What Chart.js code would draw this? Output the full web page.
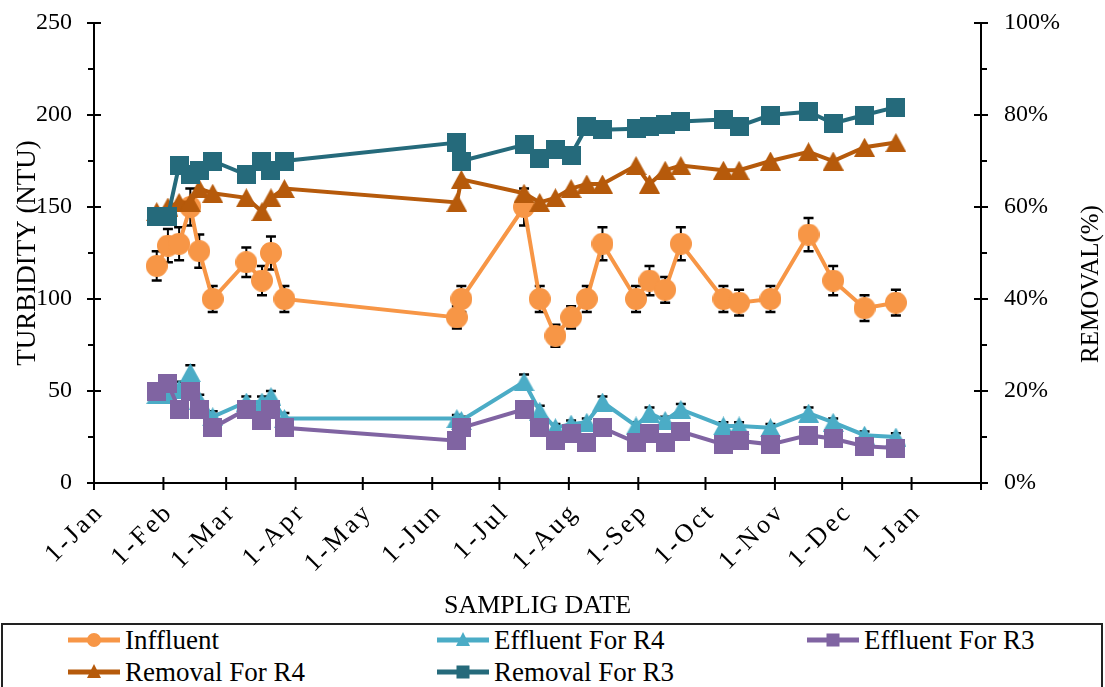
<!DOCTYPE html>
<html><head><meta charset="utf-8">
<script src="https://cdn.jsdelivr.net/npm/chart.js@4.4.0/dist/chart.umd.min.js"></script>
<style>
html,body{margin:0;padding:0;background:#fff;}
#wrap{position:relative;width:1105px;height:687px;overflow:hidden;background:#fff;}
#cbox{position:absolute;left:0;top:0;width:1105px;height:622px;}
#legendBox{position:absolute;left:1px;top:623px;width:1102px;height:90px;border:2px solid #222;box-sizing:border-box;}
.item{position:absolute;height:32px;display:flex;align-items:center;white-space:nowrap;font-family:"Liberation Serif","Times New Roman",serif;font-size:27px;color:#000;}
.item svg{margin-right:5px;flex:none;}
</style></head><body>
<div id="wrap"><div id="cbox"><canvas id="c"></canvas></div><div id="legendBox"></div></div>
<script>
// ---- data ----
const sampleDates = ['2019-01-29','2019-02-03','2019-02-08','2019-02-13','2019-02-17','2019-02-23','2019-03-10','2019-03-17','2019-03-21','2019-03-27','2019-06-12','2019-06-14','2019-07-12','2019-07-19','2019-07-26','2019-08-02','2019-08-09','2019-08-16','2019-08-31','2019-09-06','2019-09-13','2019-09-20','2019-10-09','2019-10-16','2019-10-30','2019-11-16','2019-11-27','2019-12-11','2019-12-25'];
const influent    = [118,129,130,150,126,100,120,110,125,100,90,100,150,100,80,90,100,130,100,110,105,130,100,98,100,135,110,95,98];
const influentErr = [8,9,9,10,9,7,8,8,9,7,6,7,10,7,6,6,7,9,7,8,7,9,7,7,7,9,8,7,7];
const effluentR4    = [48,48,51,60,45,36,44,44,47,35,35,34,55,39,30,32,33,44,31,38,34,40,31,31,30,38,33,26,25];
const effluentR4Err = [3,3,4,4,3,3,3,3,3,3,2,2,4,3,2,2,2,3,2,3,2,3,2,2,2,3,2,2,2];
const effluentR3 = [50,54,40,50,40,30,40,34,40,30,23,30,40,30,23,27,22,30,22,27,22,28,21,23,21,26,24,20,19];
const removalR4 = [59,60,61,61,64,63,62,59,62,64,61,66,63,61,62,64,65,65,69,65,68,69,68,68,70,72,70,73,74];
const removalR3 = [58,58,69,67,68,70,67,70,68,70,74,70,73.5,70.5,72.5,71.3,77.5,76.8,77,77.5,78,78.6,79,77.6,80,80.7,78.2,80,81.7];
const xTickDates  = ['2019-01-01','2019-02-01','2019-03-01','2019-04-01','2019-05-01','2019-06-01','2019-07-01','2019-08-01','2019-09-01','2019-10-01','2019-11-01','2019-12-01','2020-01-01','2020-02-01'];
const xTickLabels = ['1-Jan','1-Feb','1-Mar','1-Apr','1-May','1-Jun','1-Jul','1-Aug','1-Sep','1-Oct','1-Nov','1-Dec','1-Jan',''];
const turbidityTicks = [0,50,100,150,200,250];
const removalTicks = [0,20,40,60,80,100];
const removalTickLabels = ['0%','20%','40%','60%','80%','100%'];
const seriesNames = ['Inffluent','Effluent For R4','Effluent For R3','Removal For R4','Removal For R3'];

const COLORS = {inf:'#F79646', e4:'#4BACC6', e3:'#8064A2', r4:'#B65A0B', r3:'#256A7B'};
const FONT = '"Liberation Serif","Times New Roman",serif';

const base = Date.UTC(2019,0,1);
function dayOf(s){const [y,m,d]=s.split('-').map(Number);return (Date.UTC(y,m-1,d)-base)/86400000;}
const xDays = sampleDates.map(dayOf);
const xTickDays = xTickDates.map(dayOf);
const pts = arr => arr.map((v,i)=>({x:xDays[i], y:v}));

function marker(shape,color){
  const c=document.createElement('canvas');
  let w,h;
  if(shape==='circle'){w=h=22;} else if(shape==='tri'){w=21;h=19;} else {w=h=19;}
  c.width=w;c.height=h;const g=c.getContext('2d');g.fillStyle=color;g.beginPath();
  if(shape==='circle'){g.arc(w/2,h/2,w/2,0,Math.PI*2);}
  else if(shape==='tri'){g.moveTo(w/2,0);g.lineTo(w,h);g.lineTo(0,h);g.closePath();}
  else {g.rect(0,0,w,h);}
  g.fill();return c;
}

const errPlugin = {
  id:'errbars',
  beforeDatasetDraw(chart,args){
    const ds=chart.data.datasets[args.index];
    if(!ds.err) return;
    const ys=chart.scales[ds.yAxisID], ctx=chart.ctx;
    ctx.save();ctx.strokeStyle='#000';
    args.meta.data.forEach((p,i)=>{
      const v=ds.data[i].y,e=ds.err[i];
      const a=ys.getPixelForValue(v+e),b=ys.getPixelForValue(v-e),x=p.x;
      ctx.lineWidth=2;ctx.beginPath();ctx.moveTo(x,a);ctx.lineTo(x,b);ctx.stroke();
      ctx.lineWidth=2.5;ctx.beginPath();ctx.moveTo(x-5,a);ctx.lineTo(x+5,a);ctx.moveTo(x-5,b);ctx.lineTo(x+5,b);ctx.stroke();
    });
    ctx.restore();
  }
};

const axisTicks = {
  id:'axisTicks',
  beforeDraw(chart){
    const s=chart.scales.x;
    if(s && !s._lsWrapped){
      const orig=s.drawLabels.bind(s);
      s.drawLabels=function(ca){const ctx=this.ctx;ctx.save();ctx.letterSpacing='3px';ctx.translate(6,-2);orig(ca);ctx.restore();};
      s._lsWrapped=true;
    }
  },
  beforeDatasetsDraw(chart){
    const {x,y,y1}=chart.scales, ctx=chart.ctx;
    ctx.save();ctx.strokeStyle='#000';ctx.lineWidth=2;ctx.beginPath();
    const ax=y.right;
    for(let v=0;v<=250;v+=25){const p=y.getPixelForValue(v);
      if(v%50===0){ctx.moveTo(ax-7,p);ctx.lineTo(ax+7,p);} else {ctx.moveTo(ax-6,p);ctx.lineTo(ax,p);} }
    const bx=y1.left;
    for(let v=0;v<=100;v+=10){const p=y1.getPixelForValue(v);
      if(v%20===0){ctx.moveTo(bx-7,p);ctx.lineTo(bx+7,p);} else {ctx.moveTo(bx,p);ctx.lineTo(bx+6,p);} }
    const ay=x.top;
    xTickDays.forEach(d=>{const p=x.getPixelForValue(d);ctx.moveTo(p,ay-6);ctx.lineTo(p,ay+7);});
    ctx.stroke();
    // right axis title (reads bottom-to-top)
    ctx.fillStyle='#000';ctx.font='25px '+FONT;ctx.textAlign='center';ctx.textBaseline='middle';
    ctx.translate(1091,284);ctx.rotate(-Math.PI/2);ctx.fillText('REMOVAL(%)',0,0);
    ctx.restore();
  }
};

function lineDs(label,data,color,shape,axis,order,err){
  return {label,data:pts(data),borderColor:color,backgroundColor:color,borderWidth:4,
    pointStyle:marker(shape,color),pointRadius:10,pointHoverRadius:10,yAxisID:axis,order,
    err:err||null,tension:0,clip:false};
}

const tickFont={family:FONT,size:24};
function fixV(w){return function(s){s.width=w;s.paddingTop=14;s.paddingBottom=14;};}
new Chart(document.getElementById('c'),{
  type:'line',
  data:{datasets:[
    lineDs(seriesNames[0],influent,COLORS.inf,'circle','y',5,influentErr),
    lineDs(seriesNames[1],effluentR4,COLORS.e4,'tri','y',4,effluentR4Err),
    lineDs(seriesNames[2],effluentR3,COLORS.e3,'sq','y',3),
    lineDs(seriesNames[3],removalR4,COLORS.r4,'tri','y1',2),
    lineDs(seriesNames[4],removalR3,COLORS.r3,'sq','y1',1)
  ]},
  options:{
    responsive:true,maintainAspectRatio:false,animation:false,
    layout:{padding:{top:23,left:0,right:0,bottom:0}},
    plugins:{legend:{display:false},tooltip:{enabled:false}},
    events:[],
    scales:{
      x:{type:'linear',min:xTickDays[0],max:xTickDays[xTickDays.length-1],
        grid:{display:false,drawTicks:false},border:{display:true,color:'#000',width:2},
        afterBuildTicks(s){s.ticks=xTickDays.map(v=>({value:v}));},
        afterFit(s){s.height=139;},
        ticks:{autoSkip:false,maxRotation:45,minRotation:45,padding:16,color:'#000',font:{family:FONT,size:26},
          callback:(v,i)=>xTickLabels[i]},
        title:{display:true,text:'SAMPLIG DATE',color:'#000',font:{family:FONT,size:26},padding:{top:0,bottom:0}}
      },
      y:{position:'left',min:0,max:250,
        grid:{display:false,drawTicks:false},border:{display:true,color:'#000',width:2},
        afterBuildTicks(s){s.ticks=turbidityTicks.map(v=>({value:v}));},
        afterFit:fixV(94),
        ticks:{padding:22,color:'#000',font:tickFont},
        title:{display:true,text:'TURBIDITY (NTU)',color:'#000',font:{family:FONT,size:27},padding:{top:12,bottom:0}}
      },
      y1:{position:'right',min:0,max:100,
        grid:{display:false,drawTicks:false},border:{display:true,color:'#000',width:2},
        afterBuildTicks(s){s.ticks=removalTicks.map(v=>({value:v}));},
        afterFit:fixV(124),
        ticks:{padding:23,color:'#000',font:tickFont,callback:(v,i)=>removalTickLabels[i]}
      }
    }
  },
  plugins:[errPlugin,axisTicks]
});

// ---- legend (HTML) ----
const legendItems=[
  {name:seriesNames[0],color:COLORS.inf,shape:'circle',x:68,y:624},
  {name:seriesNames[1],color:COLORS.e4,shape:'tri',x:437,y:624},
  {name:seriesNames[2],color:COLORS.e3,shape:'sq',x:807,y:624},
  {name:seriesNames[3],color:COLORS.r4,shape:'tri',x:68,y:656},
  {name:seriesNames[4],color:COLORS.r3,shape:'sq',x:437,y:656}
];
const wrap=document.getElementById('wrap');
legendItems.forEach(it=>{
  const d=document.createElement('div');d.className='item';d.style.left=it.x+'px';d.style.top=it.y+'px';
  let m;
  if(it.shape==='circle') m=`<circle cx="26" cy="10" r="7" fill="${it.color}"/>`;
  else if(it.shape==='tri') m=`<polygon points="26,2 33,16 19,16" fill="${it.color}"/>`;
  else m=`<rect x="19.5" y="3.5" width="13" height="13" fill="${it.color}"/>`;
  d.innerHTML=`<svg width="52" height="20" viewBox="0 0 52 20"><line x1="0" y1="10" x2="52" y2="10" stroke="${it.color}" stroke-width="5" stroke-linecap="round"/>${m}</svg><span>${it.name}</span>`;
  wrap.appendChild(d);
});
</script>
</body></html>
